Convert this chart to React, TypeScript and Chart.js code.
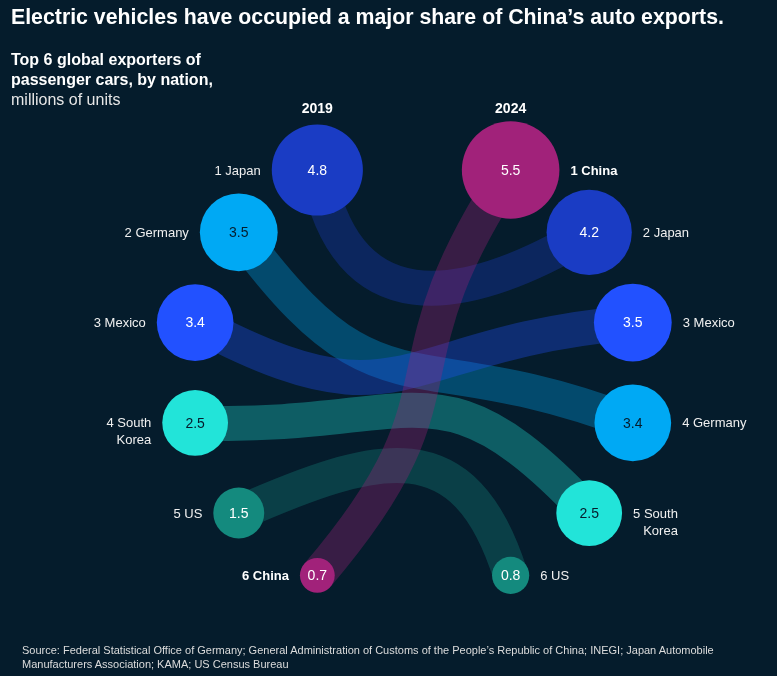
import React, { useEffect, useRef } from "react";
import { Chart, registerables } from "chart.js";

Chart.register(...registerables);

// ---------- data ----------
const years = ["2019", "2024"];
const countries2019 = ["Japan", "Germany", "Mexico", "South Korea", "US", "China"];
const values2019 = [4.8, 3.5, 3.4, 2.5, 1.5, 0.7];
const countries2024 = ["China", "Japan", "Mexico", "Germany", "South Korea", "US"];
const values2024 = [5.5, 4.2, 3.5, 3.4, 2.5, 0.8];
const highlighted = "China";

// ---------- styles ----------
const BG = "#051c2c";
const FONT = '"Liberation Sans", Arial, Helvetica, sans-serif';
const COLORS: Record<string, string> = {
  Japan: "#1a3cc4",
  Germany: "#00a9f4",
  Mexico: "#2251ff",
  "South Korea": "#22e4d9",
  US: "#148a7e",
  China: "#a1227a",
};
const DARK_TEXT = new Set(["Germany", "South Korea"]);
const STEP = (25.8 * Math.PI) / 180; // angular spacing of ranks on the ring
const R_SCALE = 20.8; // bubble radius px per sqrt(million)
const BAND_WIDTH = 35;
const BAND_ALPHA = 0.33;
const ROT_L = (15 * Math.PI) / 180;
const ROT_R = (8 * Math.PI) / 180;
const ARM = 0.55;

const rankAngle = (i: number) => (2.5 - i) * STEP;

const hexToRgba = (hex: string, a: number) => {
  const h = hex.replace("#", "");
  const r = parseInt(h.slice(0, 2), 16);
  const g = parseInt(h.slice(2, 4), 16);
  const b = parseInt(h.slice(4, 6), 16);
  return `rgba(${r},${g},${b},${a})`;
};

const rot = (vx: number, vy: number, a: number) => [
  vx * Math.cos(a) - vy * Math.sin(a),
  vx * Math.sin(a) + vy * Math.cos(a),
];

const bandsPlugin = {
  id: "bands",
  beforeDatasetsDraw(chart: any) {
    const ctx = chart.ctx;
    const ox = chart.scales.x.getPixelForValue(0);
    const oy = chart.scales.y.getPixelForValue(0);
    const left = chart.getDatasetMeta(0).data;
    const right = chart.getDatasetMeta(1).data;
    ctx.save();
    ctx.lineCap = "butt";
    ctx.lineWidth = BAND_WIDTH;
    countries2019.forEach((c, i) => {
      const j = countries2024.indexOf(c);
      if (j < 0) return;
      const p0 = left[i];
      const p1 = right[j];
      const chord = Math.hypot(p1.x - p0.x, p1.y - p0.y);
      const s = ARM * chord;
      const d0x = ox - p0.x, d0y = oy - p0.y;
      const l0 = Math.hypot(d0x, d0y);
      const [u0x, u0y] = rot(d0x / l0, d0y / l0, ROT_L);
      const d1x = ox - p1.x, d1y = oy - p1.y;
      const l1 = Math.hypot(d1x, d1y);
      const [u1x, u1y] = rot(d1x / l1, d1y / l1, ROT_R);
      ctx.strokeStyle = hexToRgba(COLORS[c], BAND_ALPHA);
      ctx.beginPath();
      ctx.moveTo(p0.x, p0.y);
      ctx.bezierCurveTo(p0.x + s * u0x, p0.y + s * u0y, p1.x + s * u1x, p1.y + s * u1y, p1.x, p1.y);
      ctx.stroke();
    });
    ctx.restore();
  },
};

const labelsPlugin = {
  id: "labels",
  afterDatasetsDraw(chart: any) {
    const ctx = chart.ctx;
    ctx.save();
    const sides = [
      { names: countries2019, values: values2019, meta: chart.getDatasetMeta(0), dir: -1 },
      { names: countries2024, values: values2024, meta: chart.getDatasetMeta(1), dir: 1 },
    ];
    sides.forEach((side, si) => {
      const top = side.meta.data[0];
      ctx.font = `700 14px ${FONT}`;
      ctx.fillStyle = "#ffffff";
      ctx.textAlign = "center";
      ctx.textBaseline = "middle";
      ctx.fillText(years[si], top.x, 109);

      side.meta.data.forEach((el: any, i: number) => {
        const name = side.names[i];
        const r = el.options.radius;
        ctx.font = `400 14px ${FONT}`;
        ctx.textAlign = "center";
        ctx.textBaseline = "middle";
        ctx.fillStyle = DARK_TEXT.has(name) ? BG : "#ffffff";
        ctx.fillText(side.values[i].toFixed(1), el.x, el.y + 1);

        const words = name.split(" ");
        const lines =
          words.length > 1
            ? [`${i + 1} ${words.slice(0, -1).join(" ")}`, words[words.length - 1]]
            : [`${i + 1} ${name}`];
        const bold = name === highlighted;
        ctx.font = `${bold ? 700 : 400} 13px ${FONT}`;
        ctx.fillStyle = bold ? "#ffffff" : "#f0f0f0";
        const gap = 11;
        const widths = lines.map((l) => ctx.measureText(l).width);
        const blockW = Math.max(...widths);
        ctx.textAlign = "right";
        const anchorX = side.dir < 0 ? el.x - r - gap : el.x + r + gap + blockW;
        lines.forEach((l, k) => {
          ctx.fillText(l, anchorX, el.y + 1 + k * 17);
        });
      });
    });
    ctx.restore();
  },
};

export default function App() {
  const ref = useRef<HTMLCanvasElement | null>(null);

  useEffect(() => {
    if (!ref.current) return;
    const leftPts = values2019.map((v, i) => ({
      x: -Math.cos(rankAngle(i)),
      y: Math.sin(rankAngle(i)),
      r: R_SCALE * Math.sqrt(v),
    }));
    const rightPts = values2024.map((v, i) => ({
      x: Math.cos(rankAngle(i)),
      y: Math.sin(rankAngle(i)),
      r: R_SCALE * Math.sqrt(v),
    }));
    const chart = new Chart(ref.current, {
      type: "bubble",
      data: {
        datasets: [
          {
            label: years[0],
            data: leftPts,
            backgroundColor: countries2019.map((c) => COLORS[c]),
            borderWidth: 0,
            hoverRadius: 0,
            clip: false,
          } as any,
          {
            label: years[1],
            data: rightPts,
            backgroundColor: countries2024.map((c) => COLORS[c]),
            borderWidth: 0,
            hoverRadius: 0,
            clip: false,
          } as any,
        ],
      },
      options: {
        responsive: false,
        animation: false,
        events: [],
        layout: { padding: 0, autoPadding: false },
        plugins: { legend: { display: false }, tooltip: { enabled: false } },
        scales: {
          x: { type: "linear", display: false, min: -1.844, max: 1.617 },
          y: { type: "linear", display: false, min: -1.351, max: 1.66 },
        },
      } as any,
      plugins: [bandsPlugin, labelsPlugin],
    });
    return () => chart.destroy();
  }, []);

  return (
    <div
      style={{
        position: "fixed",
        left: 0,
        top: 0,
        width: 777,
        height: 676,
        background: BG,
        overflow: "hidden",
        fontFamily: FONT,
        color: "#ffffff",
      }}
    >
      <canvas
        ref={ref}
        width={777}
        height={676}
        style={{ position: "absolute", left: 0, top: 0, width: 777, height: 676 }}
      />
      <div
        style={{
          position: "absolute",
          left: 11,
          top: 7,
          fontSize: 21.3,
          fontWeight: 700,
          lineHeight: "21.3px",
          whiteSpace: "nowrap",
        }}
      >
        Electric vehicles have occupied a major share of China’s auto exports.
      </div>
      <div
        style={{
          position: "absolute",
          left: 11,
          top: 49.5,
          fontSize: 16,
          lineHeight: "20px",
          whiteSpace: "nowrap",
        }}
      >
        <div style={{ fontWeight: 700 }}>Top 6 global exporters of</div>
        <div style={{ fontWeight: 700 }}>passenger cars, by nation,</div>
        <div style={{ color: "#e6e6e6" }}>millions of units</div>
      </div>
      <div
        style={{
          position: "absolute",
          left: 22,
          top: 642.7,
          fontSize: 11,
          lineHeight: "14px",
          whiteSpace: "nowrap",
          color: "#dcdcdc",
        }}
      >
        <div>
          Source: Federal Statistical Office of Germany; General Administration of Customs of the People’s Republic of
          China; INEGI; Japan Automobile
        </div>
        <div>Manufacturers Association; KAMA; US Census Bureau</div>
      </div>
    </div>
  );
}
